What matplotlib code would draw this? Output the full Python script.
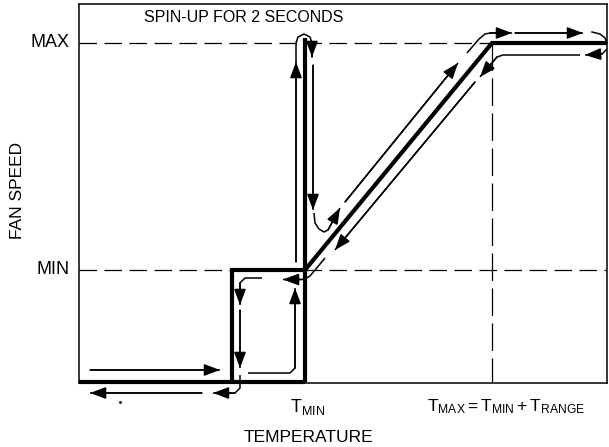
import matplotlib
matplotlib.use("Agg")
import matplotlib.pyplot as plt
import numpy as np

plt.rcParams['font.family'] = ['Liberation Sans', 'DejaVu Sans']
plt.rcParams['mathtext.fontset'] = 'custom'
plt.rcParams['mathtext.rm'] = 'Liberation Sans'
plt.rcParams['mathtext.it'] = 'Liberation Sans'

# diagram units: temperature on x, fan speed on y
t_min = 226
t_max = 413
t_end = 528
t_box = 153
speed_min = 113
speed_max = 340
speed_spin = 345
speed_off = 1

# thick fan-speed curve, drawn as separate strokes
curve_temp = [[0, t_min], [t_box, t_box, t_min], [t_min, t_min], [t_min, t_max, t_end]]
curve_speed = [[speed_off, speed_off], [speed_off, speed_min, speed_min],
               [speed_off, speed_spin], [speed_min, speed_max, speed_max]]

# thin arrow paths (x list, y list); the arrowhead sits on the last point
arrow_paths = [
    ([11, 141], [13, 13]),
    ([183, 166, 161, 161], [105, 105, 100, 78]),
    ([161, 161], [73, 15]),
    ([161, 161, 156, 134], [8, -5, -10, -10]),
    ([123, 11], [-10, -10]),
    ([169, 211, 216, 216], [10, 10, 15, 95]),
    ([246, 231, 226, 222, 204], [125, 107, 104, 103.5, 103.5]),
    ([217, 217], [121, 321]),
    ([234, 234], [318, 173]),
    ([235, 236, 240, 245, 249, 261], [170, 160, 154, 151, 153, 175]),
    ([266, 379], [181, 320]),
    ([388, 400, 406, 411, 433], [330, 344, 349, 350, 350]),
    ([436, 504], [350, 350]),
    ([528, 523, 506], [334, 329, 328]),
    ([501, 424, 418, 401], [328, 328, 326, 306]),
    ([396, 256], [301, 133]),
]

# plain thin strokes without heads
plain_paths = [
    ([217, 217, 219, 225, 231, 233, 233], [321, 340, 346, 349, 346, 340, 326]),
    ([513, 521, 526, 528], [351, 349, 345, 340]),
]
# the head of the spin-up loop
loop_head = ([233, 233], [336, 326])

fig = plt.figure(figsize=(6.09, 4.47), dpi=100)
ax = fig.add_axes([79 / 609, (447 - 383) / 447, 528 / 609, 379 / 447])
ax.set_xlim(0, t_end)
ax.set_ylim(0, 379)
ax.set_xticks([])
ax.set_yticks([])
for s in ax.spines.values():
    s.set_linewidth(1.1)

# reference dashed lines
ax.plot([0, t_max], [speed_max, speed_max], color='k', lw=0.9, dashes=(14, 6))
ax.plot([0, t_end], [speed_min, speed_min], color='k', lw=0.9, dashes=(14, 6))
ax.plot([t_max, t_max], [speed_max, 0], color='k', lw=0.9, dashes=(22, 6))

for xs, ys in zip(curve_temp, curve_speed):
    ax.plot(xs, ys, color='k', lw=3, solid_capstyle='butt', solid_joinstyle='miter',
            clip_on=False)

def arrow(xs, ys):
    ax.plot(xs, ys, color='k', lw=1.1, clip_on=False, solid_capstyle='butt')
    ax.annotate('', xy=(xs[-1], ys[-1]), xytext=(xs[-2], ys[-2]),
                annotation_clip=False,
                arrowprops=dict(arrowstyle='-|>,head_length=0.8,head_width=0.3',
                                color='k', lw=1.1, shrinkA=0, shrinkB=0,
                                mutation_scale=12))

for xs, ys in arrow_paths:
    arrow(xs, ys)
for xs, ys in plain_paths:
    ax.plot(xs, ys, color='k', lw=1.1, clip_on=False)
arrow(*loop_head)
ax.plot([41], [-19], marker='.', ms=2, color='k', clip_on=False)

fs = 12.5
ax.text(-9, speed_max, 'MAX', ha='right', va='center', fontsize=13)
ax.text(-9, speed_min, 'MIN', ha='right', va='center', fontsize=13)
ax.text(-61, 193, 'FAN SPEED', ha='center', va='center', rotation=90, fontsize=fs)
ax.text(165, 365, 'SPIN-UP FOR 2 SECONDS', ha='center', va='center', fontsize=11.5)
ax.text(229, -24, r'$\mathrm{T_{MIN}}$', ha='center', va='center', fontsize=13)
ax.text(427, -24, r'$\mathrm{T_{MAX} = T_{MIN} + T_{RANGE}}$', ha='center',
        va='center', fontsize=fs)
ax.text(229, -54, 'TEMPERATURE', ha='center', va='center', fontsize=fs)

fig.savefig('out.png', dpi=100)
